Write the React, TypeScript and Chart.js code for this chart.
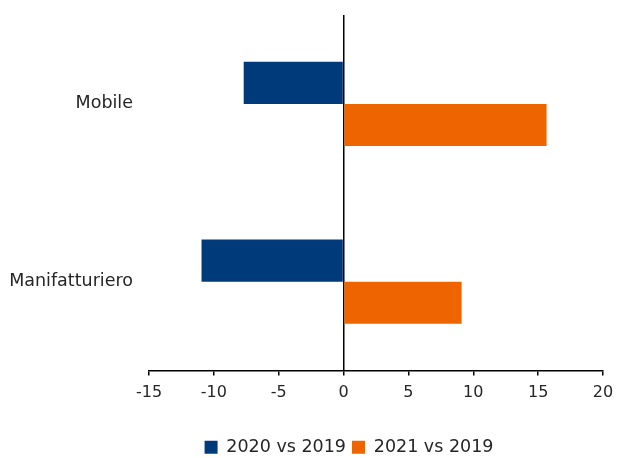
import React, { useEffect, useRef } from "react";
import { Chart, registerables } from "chart.js";

Chart.register(...registerables);

const categories = ["Mobile", "Manifatturiero"];
const series2020 = [-7.7, -10.95];
const series2021 = [15.65, 9.1];
const seriesLabels = ["2020 vs 2019", "2021 vs 2019"];
const xMin = -15;
const xMax = 20;
const xStep = 5;

const FONT = "'DejaVu Sans', sans-serif";
const TEXT = "#262626";

const legendShift = {
  id: "legendShift",
  afterLayout(chart: any) {
    if (chart.legend) {
      chart.legend.left = 95;
    }
  },
};

export default function App() {
  const ref = useRef<HTMLCanvasElement | null>(null);
  useEffect(() => {
    if (!ref.current) return;
    const chart = new Chart(ref.current, {
      type: "bar",
      data: {
        labels: categories,
        datasets: [
          {
            label: seriesLabels[0],
            data: series2020,
            backgroundColor: "#003A7A",
            categoryPercentage: 0.475,
            barPercentage: 1,
          },
          {
            label: seriesLabels[1],
            data: series2021,
            backgroundColor: "#EE6500",
            categoryPercentage: 0.475,
            barPercentage: 1,
          },
        ],
      },
      options: {
        indexAxis: "y",
        animation: false,
        responsive: false,
        maintainAspectRatio: false,
        layout: { padding: { top: 15, right: 14, left: 0, bottom: -8 } },
        scales: {
          x: {
            min: xMin,
            max: xMax,
            afterFit: (s: any) => {
              s.height = 62;
              s.paddingLeft = 0;
              s.paddingRight = 0;
            },
            ticks: {
              stepSize: xStep,
              color: TEXT,
              font: { family: FONT, size: 16 },
              padding: 8,
            },
            grid: {
              color: (c: any) => (c.tick && c.tick.value === 0 ? "#000" : "rgba(0,0,0,0)"),
              lineWidth: 1.5,
              tickColor: "#000",
              tickLength: 5,
              drawTicks: true,
            },
            border: { display: true, color: "#000", width: 1.5 },
          },
          y: {
            afterFit: (s: any) => {
              s.width = 149;
              s.paddingTop = 0;
              s.paddingBottom = 0;
            },
            ticks: {
              color: TEXT,
              font: { family: FONT, size: 17.5 },
              padding: 16,
            },
            grid: { display: false, drawTicks: false },
            border: { display: false },
          },
        },
        plugins: {
          legend: {
            position: "bottom",
            labels: {
              boxWidth: 13,
              boxHeight: 13,
              color: TEXT,
              font: { family: FONT, size: 17.5 },
              padding: 6,
            },
          },
          tooltip: { enabled: false },
        },
      },
      plugins: [legendShift],
    });
    return () => chart.destroy();
  }, []);
  return (
    <div style={{ position: "fixed", left: 0, top: 0, width: 617, height: 458, background: "#fff" }}>
      <canvas ref={ref} width={617} height={458} style={{ width: 617, height: 458 }} />
    </div>
  );
}
